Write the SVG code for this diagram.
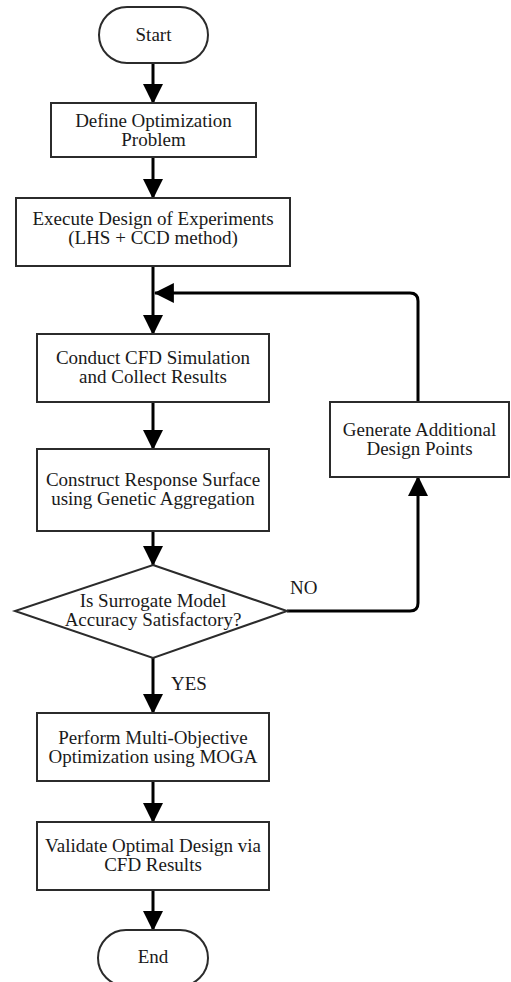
<svg xmlns="http://www.w3.org/2000/svg" width="511" height="982" viewBox="0 0 511 982">
  <style>
    .box { fill: #ffffff; stroke: #2b2b2b; stroke-width: 2; }
    .lbl { font-family: 'Liberation Serif', 'Tinos', 'Times New Roman', 'DejaVu Serif', serif; font-size: 19px; fill: #1a1a1a; text-anchor: middle; }
    .tag { font-family: 'Liberation Serif', 'Tinos', 'Times New Roman', 'DejaVu Serif', serif; font-size: 19px; fill: #1a1a1a; }
    .edge { fill: none; stroke: #000000; stroke-width: 3; }
  </style>
  <defs>
    <marker id="arrow" markerUnits="userSpaceOnUse" markerWidth="20" markerHeight="20" viewBox="0 0 18 18" refX="17" refY="9" orient="auto">
      <path d="M0,0 L18,9 L0,18 Z" fill="#000000"/>
    </marker>
  </defs>
  <rect width="511" height="982" fill="#ffffff"/>

  <g id="connectors">
    <path class="edge" d="M153,63 V103" marker-end="url(#arrow)"/>
    <path class="edge" d="M153,157 V198" marker-end="url(#arrow)"/>
    <path class="edge" d="M153,266 V334" marker-end="url(#arrow)"/>
    <path class="edge" d="M418,402 V301 Q418,293 410,293 H155" marker-end="url(#arrow)"/>
    <path class="edge" d="M153,402 V449" marker-end="url(#arrow)"/>
    <path class="edge" d="M153,531 V565" marker-end="url(#arrow)"/>
    <path class="edge" d="M153,658 V713" marker-end="url(#arrow)"/>
    <path class="edge" d="M287,611 H410 Q418,611 418,603 V477" marker-end="url(#arrow)"/>
    <path class="edge" d="M153,781 V822" marker-end="url(#arrow)"/>
    <path class="edge" d="M153,890 V930" marker-end="url(#arrow)"/>
    <text class="tag" x="290" y="594">NO</text>
    <text class="tag" x="171" y="690">YES</text>
  </g>

  <g id="start">
    <rect class="box" x="99" y="7" width="109" height="56" rx="28" ry="28"/>
    <text class="lbl" x="153.5" y="41">Start</text>
  </g>

  <g id="define">
    <rect class="box" x="51" y="103" width="205" height="54"/>
    <text class="lbl" x="153.5" y="127">Define Optimization</text>
    <text class="lbl" x="153.5" y="146">Problem</text>
  </g>

  <g id="doe">
    <rect class="box" x="16" y="198" width="274" height="68"/>
    <text class="lbl" x="153" y="225">Execute Design of Experiments</text>
    <text class="lbl" x="153" y="244">(LHS + CCD method)</text>
  </g>

  <g id="cfd">
    <rect class="box" x="37" y="334" width="232" height="68"/>
    <text class="lbl" x="153" y="364">Conduct CFD Simulation</text>
    <text class="lbl" x="153" y="383">and Collect Results</text>
  </g>

  <g id="surface">
    <rect class="box" x="37" y="449" width="232" height="82"/>
    <text class="lbl" x="153" y="486">Construct Response Surface</text>
    <text class="lbl" x="153" y="505">using Genetic Aggregation</text>
  </g>

  <g id="decision">
    <polygon class="box" points="153,565 287,611 153,658 15,611"/>
    <text class="lbl" x="153" y="607">Is Surrogate Model</text>
    <text class="lbl" x="153" y="626">Accuracy Satisfactory?</text>
  </g>

  <g id="additional">
    <rect class="box" x="330" y="402" width="179" height="75"/>
    <text class="lbl" x="419.5" y="436">Generate Additional</text>
    <text class="lbl" x="419.5" y="455">Design Points</text>
  </g>

  <g id="moga">
    <rect class="box" x="37" y="713" width="232" height="68"/>
    <text class="lbl" x="153" y="744">Perform Multi-Objective</text>
    <text class="lbl" x="153" y="763">Optimization using MOGA</text>
  </g>

  <g id="validate">
    <rect class="box" x="37" y="822" width="232" height="68"/>
    <text class="lbl" x="153" y="852">Validate Optimal Design via</text>
    <text class="lbl" x="153" y="871">CFD Results</text>
  </g>

  <g id="end">
    <rect class="box" x="98" y="930" width="110" height="56" rx="28" ry="28"/>
    <text class="lbl" x="153" y="963">End</text>
  </g>
</svg>
